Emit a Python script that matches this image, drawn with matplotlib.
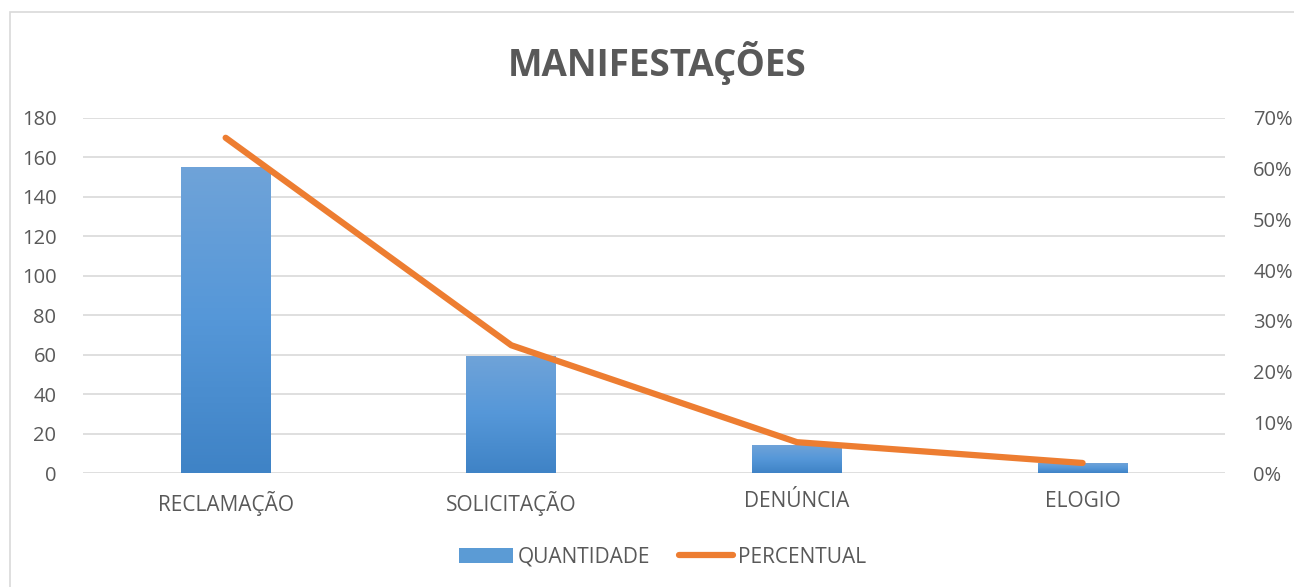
import numpy as np
import matplotlib
matplotlib.use('Agg')
import matplotlib.pyplot as plt
from matplotlib.patches import Rectangle
from matplotlib.colors import LinearSegmentedColormap
from matplotlib.ticker import PercentFormatter

# dados
categorias = ['RECLAMAÇÃO', 'SOLICITAÇÃO', 'DENÚNCIA', 'ELOGIO']
quantidade = [155, 59, 14, 5]
percentual = [0.661, 0.252, 0.061, 0.020]
yticks_esq = [0, 20, 40, 60, 80, 100, 120, 140, 160, 180]
yticks_dir = [0, 0.1, 0.2, 0.3, 0.4, 0.5, 0.6, 0.7]

plt.rcParams['font.family'] = ['Open Sans', 'DejaVu Sans']
cinza = '#595959'
azul = '#5b9bd5'
laranja = '#ed7d31'

fig = plt.figure(figsize=(12.94, 5.87), dpi=100)
ax = fig.add_axes([0.064, 0.194, 0.883, 0.605])
ax2 = ax.twinx()

x = np.arange(len(categorias))
barras = ax.bar(x, quantidade, width=0.315, color=azul, zorder=2, label='QUANTIDADE')

# gradiente nas barras (estilo Excel)
grad = LinearSegmentedColormap.from_list('g', ['#3f83c6', '#5597d8', '#6fa3d9'])
for b in barras:
    bx, by = b.get_x(), b.get_y()
    w, h = b.get_width(), b.get_height()
    b.set_facecolor('none')
    b.set_edgecolor('none')
    ax.imshow(np.linspace(0, 1, 100).reshape(-1, 1), cmap=grad, origin='lower',
              extent=[bx, bx + w, by, by + h], aspect='auto', zorder=2)

ax.set_xlim(-0.5, len(categorias) - 0.5)
ax.set_ylim(0, 180)
ax.set_yticks(yticks_esq)
ax.set_xticks(x)
ax.set_xticklabels(categorias)
ax.grid(axis='y', color='#d9d9d9', lw=1.2, zorder=0)
ax.set_axisbelow(True)

ax2.plot(x, percentual, color=laranja, lw=4.5, solid_capstyle='round', zorder=3, label='PERCENTUAL')
ax2.set_ylim(0, 0.7)
ax2.set_yticks(yticks_dir)
ax2.yaxis.set_major_formatter(PercentFormatter(1.0, decimals=0))

for a in (ax, ax2):
    for s in a.spines.values():
        s.set_visible(False)
    a.tick_params(length=0, labelsize=14.5, colors=cinza)
ax.tick_params(axis='x', pad=13, labelsize=15)
ax.tick_params(axis='y', pad=19)
ax2.tick_params(axis='y', pad=20)

fig.suptitle('MANIFESTAÇÕES', x=0.508, y=0.93, fontsize=26.5, fontweight='bold', color=cinza)

# legenda
h_bar = Rectangle((0, 0), 1, 1, facecolor=azul)
h_lin = plt.Line2D([], [], color=laranja, lw=4.5, solid_capstyle='round')
fig.legend([h_bar, h_lin], ['QUANTIDADE', 'PERCENTUAL'], loc='center',
           bbox_to_anchor=(0.512, 0.051), ncol=2, frameon=False, fontsize=15,
           labelcolor=cinza, handlelength=2.6, handletextpad=0.2, columnspacing=1.4)

# moldura
fig.patches.append(Rectangle((0.008, -0.01), 1.0, 0.99, transform=fig.transFigure,
                             fill=False, edgecolor='#d9d9d9', lw=1.2))

plt.savefig('out.png', dpi=100)
